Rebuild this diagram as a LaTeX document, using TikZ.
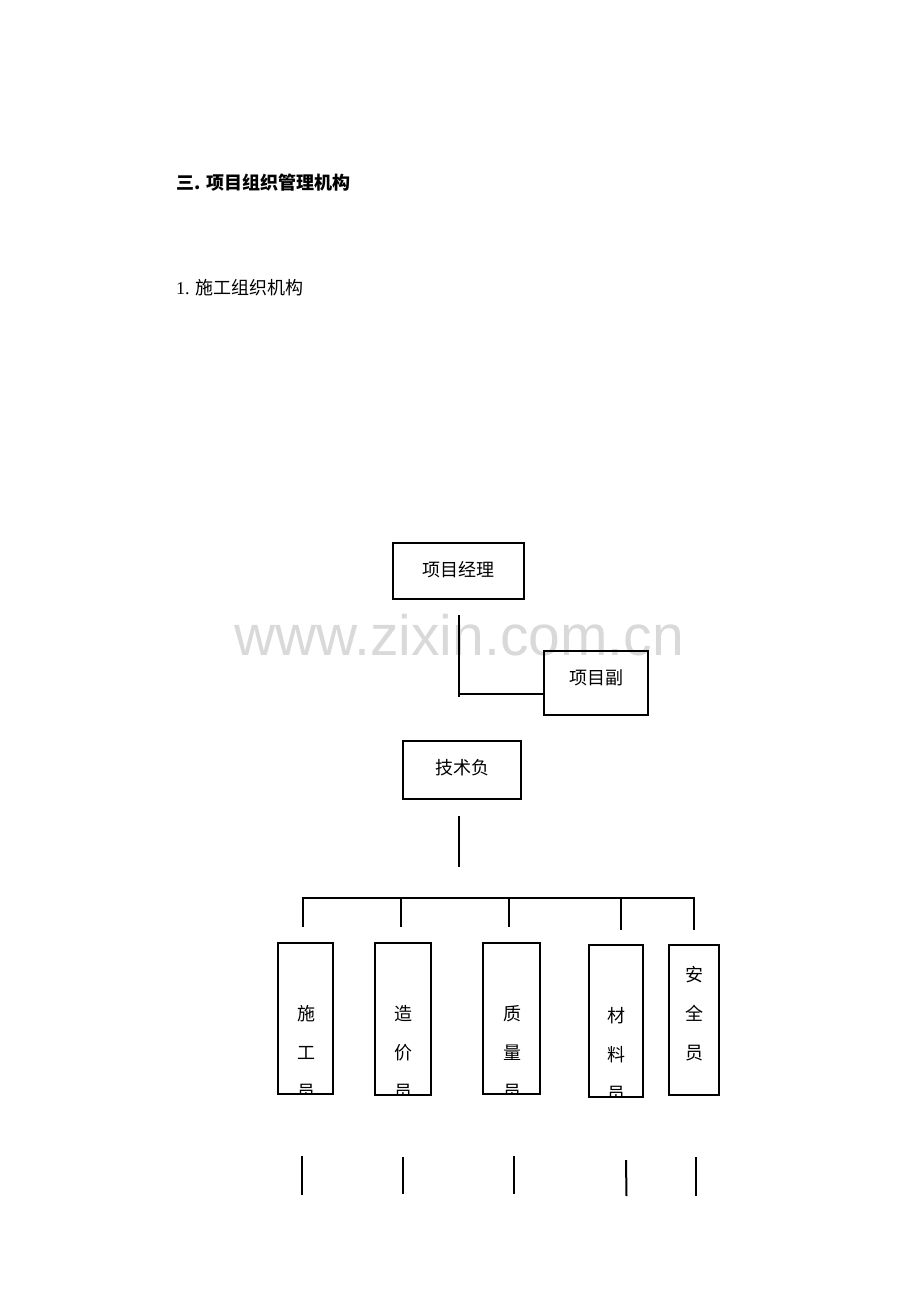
\documentclass[tikz,border=0pt]{standalone}
\usepackage{fontspec}
\setmainfont{Liberation Serif}
\newfontfamily\cjk{Noto Sans CJK SC}
\newfontfamily\wmfont{Liberation Sans}
\begin{document}
\begin{tikzpicture}[x=1pt,y=-1pt,
  box/.style={draw,line width=2pt,inner sep=0pt,fill=none},
  conn/.style={line width=2pt},
  lbl/.style={font=\cjk\fontsize{18}{18}\selectfont,inner sep=0pt},
  vlbl/.style={font=\cjk\fontsize{18}{39}\selectfont,align=center,inner sep=0pt}]
\useasboundingbox (0,0) rectangle (920,1302);
% watermark
\node[font=\wmfont\fontsize{57}{57}\selectfont,text=black!15,inner sep=0pt] (wm) at (459,635) {www.zixin.com.cn};
% headings
\node[anchor=west,inner sep=0pt,font=\cjk\fontsize{18}{18}\selectfont\bfseries] (h1) at (176,183) {三. 项目组织管理机构};
\node[anchor=west,inner sep=0pt,font=\fontsize{18}{18}\selectfont] (h2) at (176,288) {1. {\cjk 施工组织机构}};
% top boxes
\node[box,minimum width=131pt,minimum height=56pt] (pm) at (458.5,571) {};
\node[lbl] (pmt) at (458.5,570) {项目经理};
\node[box,minimum width=104pt,minimum height=64pt] (fu) at (596,683) {};
\node[lbl] (fut) at (596,678) {项目副};
\node[box,minimum width=118pt,minimum height=58pt] (js) at (462,770) {};
\node[lbl] (jst) at (462,768) {技术负};
\coordinate (a1) at (459,615);
\coordinate (a2) at (459,697);
\coordinate (a3) at (459,694);
\coordinate (a4) at (544,694);
\draw[conn] (a1) -- (a2);
\draw[conn] (a3) -- (a4);
\coordinate (b1) at (459,816);
\coordinate (b2) at (459,867);
\draw[conn] (b1) -- (b2);
% bus
\coordinate (l1) at (303,927);
\coordinate (l2) at (401,927);
\coordinate (l3) at (509,927);
\coordinate (l4) at (621,930);
\coordinate (l5) at (694,930);
\draw[conn] (l1) |- (l5 |- 0,898) -- (l5);
\draw[conn] (l2) -- (l2 |- 0,898);
\draw[conn] (l3) -- (l3 |- 0,898);
\draw[conn] (l4) -- (l4 |- 0,898);
% bottom boxes
\begin{scope}
\clip (278,943) rectangle (333,1093);
\node[vlbl,anchor=north] (t1) at (306,1005) {施\\工\\员};
\end{scope}
\node[box,minimum width=55pt,minimum height=151pt] (s1) at (305.5,1018.5) {};
\begin{scope}
\clip (375,943) rectangle (431,1094);
\node[vlbl,anchor=north] (t2) at (403,1005) {造\\价\\员};
\end{scope}
\node[box,minimum width=56pt,minimum height=152pt] (s2) at (403,1019) {};
\begin{scope}
\clip (483,943) rectangle (540,1093);
\node[vlbl,anchor=north] (t3) at (512,1005) {质\\量\\员};
\end{scope}
\node[box,minimum width=57pt,minimum height=151pt] (s3) at (511.5,1018.5) {};
\begin{scope}
\clip (589,945) rectangle (643,1096);
\node[vlbl,anchor=north] (t4) at (616,1007) {材\\料\\员};
\end{scope}
\node[box,minimum width=54pt,minimum height=152pt] (s4) at (616,1021) {};
\node[vlbl,anchor=north] (t5) at (694,966) {安\\全\\员};
\node[box,minimum width=50pt,minimum height=150pt] (s5) at (694,1020) {};
% bottom stubs
\coordinate (d1a) at (302,1156); \coordinate (d1b) at (302,1195);
\coordinate (d2a) at (403,1157); \coordinate (d2b) at (403,1194);
\coordinate (d3a) at (514,1156); \coordinate (d3b) at (514,1194);
\coordinate (d4a) at (626,1160); \coordinate (d4b) at (626.5,1196);
\coordinate (d5a) at (696,1157); \coordinate (d5b) at (696,1196);
\draw[conn] (d1a) -- (d1b);
\draw[conn] (d2a) -- (d2b);
\draw[conn] (d3a) -- (d3b);
\draw[conn] (d4a) -- (d4b);
\draw[conn] (d5a) -- (d5b);
\end{tikzpicture}
\end{document}
